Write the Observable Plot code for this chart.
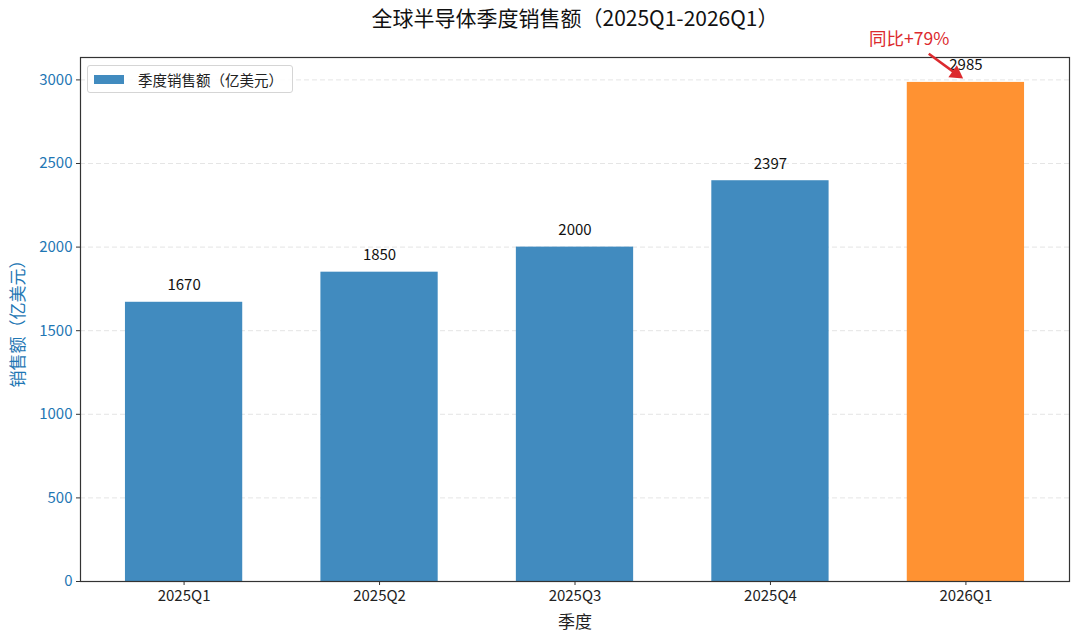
<!DOCTYPE html>
<html>
<head>
<meta charset="utf-8">
<script src="https://cdn.jsdelivr.net/npm/d3@7"></script>
<script src="https://cdn.jsdelivr.net/npm/@observablehq/plot@0.6"></script>
<style>
  body { margin: 0; background: #fff; font-family: "Noto Sans CJK SC", sans-serif; }
  #wrap { position: relative; width: 1080px; height: 644px; }
  #legend { position: absolute; left: 87px; top: 65px; width: 206px; height: 28px;
    border: 1px solid #d5d5d5; border-radius: 3px; background: rgba(255,255,255,0.85);
    display: flex; align-items: center; font-size: 14.5px; color: #222; box-sizing: border-box; }
  #legend .sw { width: 30px; height: 9px; background: #418bbf; margin-left: 6px; margin-right: 14px; }
</style>
</head>
<body>
<div id="wrap">
  <div id="chart"></div>
  <div id="legend"><span class="sw"></span><span id="legtext"></span></div>
</div>
<script>
const quarters = ["2025Q1", "2025Q2", "2025Q3", "2025Q4", "2026Q1"];
const sales = [1670, 1850, 2000, 2397, 2985];
const yTicks = [0, 500, 1000, 1500, 2000, 2500, 3000];
const titleText = "全球半导体季度销售额（2025Q1-2026Q1）";
const xLabel = "季度";
const yLabel = "销售额（亿美元）";
const seriesName = "季度销售额（亿美元）";
const yoyText = "同比+79%";
const highlightQuarter = "2026Q1";

document.getElementById("legtext").textContent = seriesName;

const rows = quarters.map((q, i) => ({ i, q, v: sales[i] }));
const hl = rows.find(d => d.q === highlightQuarter);

const BLUE = "#418bbf", ORANGE = "#ff9232", RED = "#dc2a2e", AXISBLUE = "#1f77b4";
const font = "Noto Sans CJK SC";

const chart = Plot.plot({
  width: 1080,
  height: 644,
  marginTop: 57,
  marginBottom: 63,
  marginLeft: 80,
  marginRight: 11,
  style: { fontFamily: font, background: "#fff", overflow: "visible" },
  x: { type: "linear", domain: [-0.53, 4.53] },
  y: { domain: [0, 3134] },
  marks: [
    Plot.gridY(yTicks, { stroke: "#ccc", strokeOpacity: 0.5, strokeDasharray: "5,3" }),
    Plot.rectY(rows, {
      x1: d => d.i - 0.3, x2: d => d.i + 0.3, y1: 0, y2: "v",
      fill: d => d.q === highlightQuarter ? ORANGE : BLUE
    }),
    Plot.text(rows, {
      x: "i", y: "v", text: d => String(d.v), dy: -17,
      fontSize: 15, fill: "#111", lineAnchor: "middle"
    }),
    Plot.frame({ stroke: "#333", strokeWidth: 1.2 }),
    Plot.axisY({
      ticks: yTicks, tickFormat: d => String(d), tickSize: 4, tickPadding: 4, fontSize: 15,
      stroke: "#333", fill: AXISBLUE, label: null
    }),
    Plot.axisX({
      ticks: rows.map(d => d.i), tickFormat: i => quarters[i],
      tickSize: 4, tickPadding: 5, fontSize: 15, stroke: "#333", fill: "#222", label: null
    }),
    Plot.text([xLabel], { frameAnchor: "bottom", dy: 41, text: d => d, fontSize: 17, fill: "#222", lineAnchor: "middle" }),
    Plot.text([yLabel], { frameAnchor: "left", dx: -62, rotate: -90, text: d => d, fontSize: 17, fill: AXISBLUE, textAnchor: "middle", lineAnchor: "middle" }),
    Plot.text([titleText], { frameAnchor: "top", dy: -38, text: d => d, fontSize: 21, fill: "#111", lineAnchor: "middle" }),
    Plot.text([yoyText], { x: hl.i - 0.29, y: hl.v + 255, text: d => d, fontSize: 17.5, fill: RED, lineAnchor: "middle" }),
    Plot.link([hl], {
      x1: d => d.i - 0.19, y1: d => d.v + 171,
      x2: d => d.i - 0.06, y2: d => d.v + 60,
      stroke: RED, strokeWidth: 2.5
    }),
    Plot.dot([hl], {
      x: d => d.i - 0.05, y: d => d.v + 52,
      symbol: "triangle", r: 5.5, fill: RED, stroke: "none", rotate: 125
    })
  ]
});
document.getElementById("chart").appendChild(chart);
</script>
</body>
</html>
